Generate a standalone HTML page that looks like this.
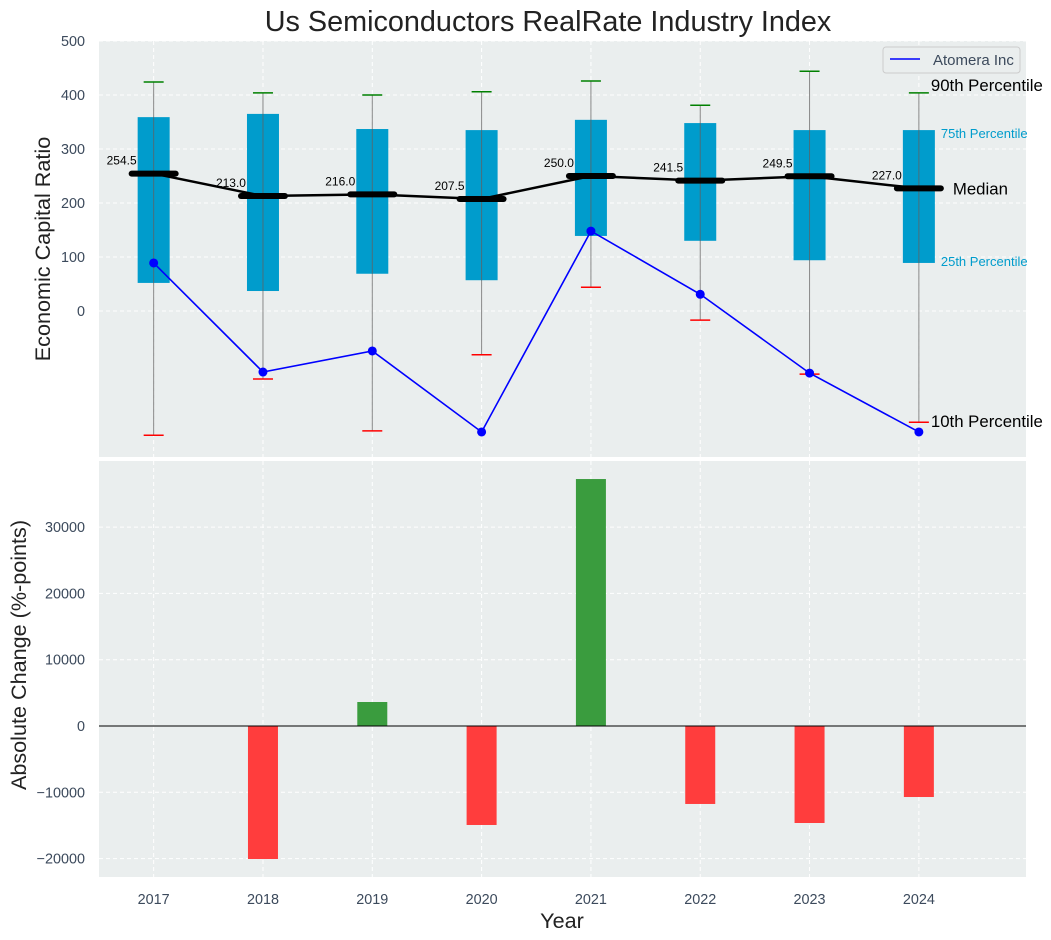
<!DOCTYPE html>
<html><head><meta charset="utf-8"><style>
body{margin:0;background:#fff;font-family:"Liberation Sans",sans-serif}
svg{display:block;font-family:"Liberation Sans",sans-serif}
</style></head><body>
<svg id="c" width="1051" height="940" xmlns="http://www.w3.org/2000/svg"></svg>
<script>
const years=[2017,2018,2019,2020,2021,2022,2023,2024];
const p90=[424,404,400,406,426,381,444,404];
const p75=[359,365,337,335,354,348,335,335];
const medians=[254.5,213.0,216.0,207.5,250.0,241.5,249.5,227.0];
const p25=[52,37,69,57,139,130,94,89];
const p10=[-230,-126,-222,-81,44,-17,-117,-206];
const atomera=[89,-113,-74,-224,148,31,-115,-224];
const changes=[0,-20060,3620,-14930,37250,-11760,-14630,-10710];
const topTicks=[0,100,200,300,400,500];
const botTicks=[-20000,-10000,0,10000,20000,30000];

const NS="http://www.w3.org/2000/svg";
const svg=document.getElementById('c');
function el(t,a,txt){const e=document.createElementNS(NS,t);for(const k in a)e.setAttribute(k,a[k]);if(txt!=null)e.textContent=txt;svg.appendChild(e);return e;}
const L=99,R=1026;
const x=v=>L+(v-2016.5)/(2024.98-2016.5)*(R-L);
const yT=v=>311-v*0.54;
const yB=v=>726-v*0.00663;
const TC='#3c4a5c';

let e=el('rect',{x:L,y:41,width:R-L,height:416,fill:'#eaeeee'});

e=el('rect',{x:L,y:461,width:R-L,height:416,fill:'#eaeeee'});


years.forEach(yr=>{
  el('line',{x1:x(yr),x2:x(yr),y1:41,y2:457,stroke:'#fff','stroke-dasharray':'4,3','stroke-width':1});
  el('line',{x1:x(yr),x2:x(yr),y1:461,y2:877,stroke:'#fff','stroke-dasharray':'4,3','stroke-width':1});
  e=el('text',{x:x(yr),y:904,'text-anchor':'middle','font-size':14.4,fill:TC},yr);
  
});
topTicks.forEach(t=>{
  el('line',{x1:L,x2:R,y1:yT(t),y2:yT(t),stroke:'#fff','stroke-dasharray':'4,3'});
  e=el('text',{x:85,y:yT(t)+5,'text-anchor':'end','font-size':14.4,fill:TC},t);
  
});
botTicks.forEach(t=>{
  el('line',{x1:L,x2:R,y1:yB(t),y2:yB(t),stroke:'#fff','stroke-dasharray':'4,3'});
  e=el('text',{x:85,y:yB(t)+5,'text-anchor':'end','font-size':14.4,fill:TC},t<0?'\u2212'+(-t):t);
  
});

years.forEach((yr,i)=>{
  const cx=x(yr);
  e=el('line',{x1:cx,x2:cx,y1:yT(p90[i]),y2:yT(p10[i]),stroke:'#888','stroke-width':1});
  
  e=el('rect',{x:cx-16,y:yT(p75[i]),width:32,height:yT(p25[i])-yT(p75[i]),fill:'#009ccc'});
  
  el('line',{x1:cx,x2:cx,y1:yT(p75[i]),y2:yT(p25[i]),stroke:'#4a6e7a','stroke-width':1});
  e=el('line',{x1:cx-10,x2:cx+10,y1:yT(p90[i]),y2:yT(p90[i]),stroke:'green','stroke-width':1.5});
  
  e=el('line',{x1:cx-10,x2:cx+10,y1:yT(p10[i]),y2:yT(p10[i]),stroke:'red','stroke-width':1.5});
  
});
e=el('polyline',{points:years.map((yr,i)=>x(yr)+','+yT(medians[i])).join(' '),fill:'none',stroke:'#000','stroke-width':2.5});

years.forEach((yr,i)=>{
  const cx=x(yr);
  e=el('line',{x1:cx-22,x2:cx+22,y1:yT(medians[i]),y2:yT(medians[i]),stroke:'#000','stroke-width':6,'stroke-linecap':'round'});
  
  e=el('text',{x:cx-17,y:yT(medians[i])-9,'text-anchor':'end','font-size':12,fill:'#000'},medians[i].toFixed(1));
  
});
e=el('polyline',{points:years.map((yr,i)=>x(yr)+','+yT(atomera[i])).join(' '),fill:'none',stroke:'#0000ff','stroke-width':1.6});

years.forEach((yr,i)=>{
  e=el('circle',{cx:x(yr),cy:yT(atomera[i]),r:4.5,fill:'#0000ff'});
  
});
const lx=x(2024);
[['90th Percentile',lx+12,yT(p90[7])-2,16.8,'#000'],['75th Percentile',lx+22,yT(p75[7])+8,13,'#009ccc'],
 ['Median',lx+34,yT(medians[7])+6,16.8,'#000'],['25th Percentile',lx+22,yT(p25[7])+3,13,'#009ccc'],
 ['10th Percentile',lx+12,yT(p10[7])+5,16.8,'#000']].forEach(a=>{
  e=el('text',{x:a[1],y:a[2],'font-size':a[3],fill:a[4]},a[0]);
  
});
e=el('rect',{x:883,y:47,width:137,height:26,fill:'#eaeeee',stroke:'#ccc',rx:3});

el('line',{x1:890,x2:920,y1:59,y2:59,stroke:'#0000ff','stroke-width':1.6});
e=el('text',{x:933,y:65,'font-size':15,fill:TC},'Atomera Inc');


years.forEach((yr,i)=>{
  const v=changes[i]; if(v===0) return;
  const y0=yB(Math.max(v,0)), y1=yB(Math.min(v,0));
  e=el('rect',{x:x(yr)-15,y:y0,width:30,height:y1-y0,fill:v>0?'#3a9c3e':'#ff3d3d'});
  
});
el('line',{x1:L,x2:R,y1:yB(0),y2:yB(0),stroke:'#000','stroke-width':1});

e=el('text',{x:548,y:31,'text-anchor':'middle','font-size':28.8,fill:'#222'},'Us Semiconductors RealRate Industry Index');

e=el('text',{x:0,y:0,'text-anchor':'middle','font-size':21.6,fill:'#222',transform:'translate(50,249) rotate(-90)'},'Economic Capital Ratio');

e=el('text',{x:0,y:0,'text-anchor':'middle','font-size':21.6,fill:'#222',transform:'translate(26,655) rotate(-90)'},'Absolute Change (%-points)');

e=el('text',{x:562,y:928,'text-anchor':'middle','font-size':21.6,fill:'#222'},'Year');

</script>
</body></html>
